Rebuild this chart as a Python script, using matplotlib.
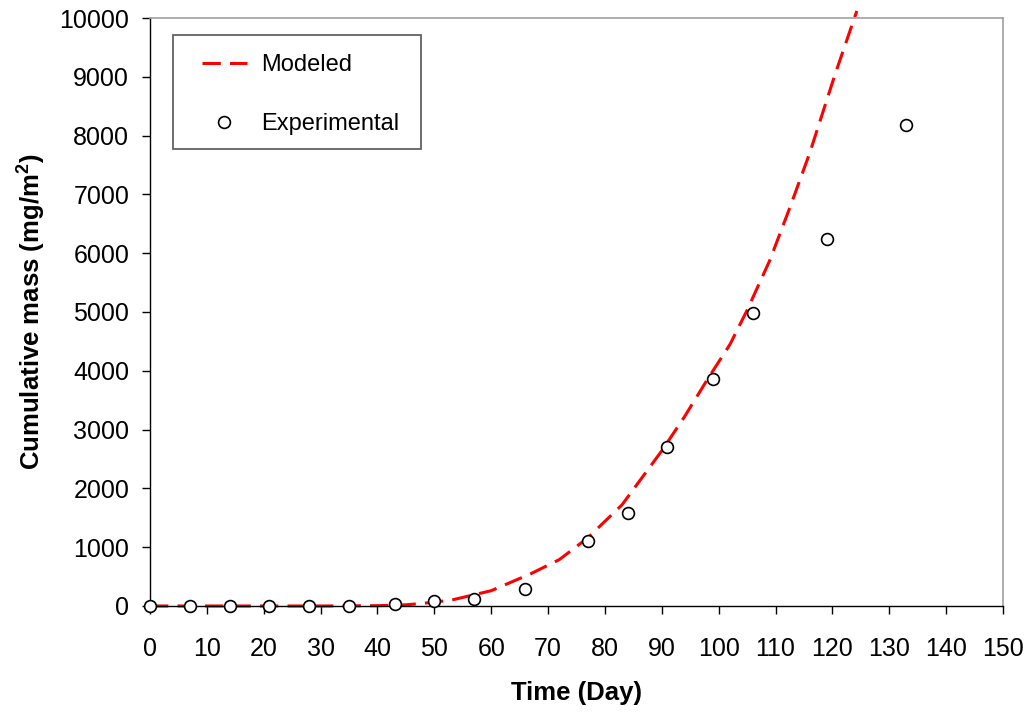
import matplotlib
matplotlib.use("Agg")
import matplotlib.pyplot as plt
from matplotlib.patches import Rectangle

plt.rcParams['font.family'] = ['Liberation Sans', 'DejaVu Sans']
plt.rcParams['mathtext.fontset'] = 'custom'
plt.rcParams['mathtext.rm'] = 'Liberation Sans'
plt.rcParams['mathtext.bf'] = 'Liberation Sans:bold'

# Experimental data
exp_days = [0, 7, 14, 21, 28, 35, 43, 50, 57, 66, 77, 84, 91, 99, 106, 119, 133]
exp_mass = [0, 0, 0, 0, 0, 0, 40, 85, 125, 290, 1105, 1580, 2700, 3860, 4980, 6240, 8180]

# Modeled curve
mod_days = [0, 10, 20, 30, 40, 45, 48, 53, 60, 67, 72, 77, 83, 90, 94, 98, 102,
            105, 109, 112.5, 116, 120.5, 124.3]
mod_mass = [0, 0, 0, 0, 5, 20, 45, 100, 260, 550, 790, 1160, 1720, 2640, 3220,
            3850, 4450, 5030, 5880, 6770, 7700, 9050, 10120]

x_ticks = list(range(0, 151, 10))
y_ticks = list(range(0, 10001, 1000))

fig = plt.figure(figsize=(10.29, 7.12), dpi=100)
ax = fig.add_axes([0.1458, 0.1489, 0.8289, 0.8258])

ax.plot(mod_days, mod_mass, color='#ff0000', lw=2.2, dashes=(6, 3),
        label='Modeled', clip_on=False, zorder=2)
ax.plot(exp_days, exp_mass, 'o', ms=8.5, mfc='white', mec='black', mew=1.2,
        label='Experimental', clip_on=False, zorder=3)

ax.set_xlim(0, 150)
ax.set_ylim(0, 10000)
ax.set_xticks(x_ticks)
ax.set_yticks(y_ticks)
ax.tick_params(direction='out', length=6, width=1, labelsize=18)
ax.tick_params(axis='x', pad=16)
ax.tick_params(axis='y', pad=9)

for s in ['top', 'right']:
    ax.spines[s].set_color('#a0a0a0')
    ax.spines[s].set_linewidth(1.2)
for s in ['left', 'bottom']:
    ax.spines[s].set_color('black')
    ax.spines[s].set_linewidth(1.0)

ax.set_xlabel('Time (Day)', fontsize=18.5, fontweight='bold', labelpad=15)
ax.set_ylabel(r'Cumulative mass (mg/m$^\mathbf{2}$)', fontsize=18.5,
              fontweight='bold', labelpad=9)

# legend frame drawn as a rectangle in axes coordinates
ax.add_patch(Rectangle((0.027, 0.777), 0.2907, 0.194, transform=ax.transAxes,
                       fill=True, facecolor='white', edgecolor='#555555',
                       lw=1.2, zorder=4))
leg = ax.legend(loc='upper left', bbox_to_anchor=(0.061, 0.938), fontsize=17,
                frameon=False, handlelength=1.9, handletextpad=0.6,
                borderpad=0, labelspacing=1.56, borderaxespad=0)
leg.set_zorder(5)

fig.savefig('out.png', dpi=100)
